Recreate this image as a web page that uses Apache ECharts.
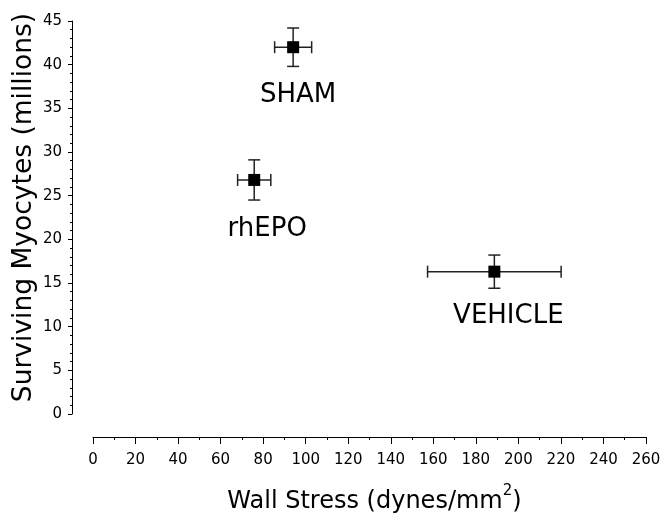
<!DOCTYPE html>
<html>
<head>
<meta charset="utf-8">
<script src="https://cdn.jsdelivr.net/npm/echarts@6/dist/echarts.min.js"></script>
<style>html,body{margin:0;padding:0;background:#fff;}#c{width:663px;height:514px;}</style>
</head>
<body>
<div id="c"></div>
<script>
const groups = ['SHAM', 'rhEPO', 'VEHICLE'];
const wallStress = [94.1, 75.8, 188.7];
const wallStressErr = [8.7, 7.8, 31.4];
const myocytes = [42.0, 26.8, 16.3];
const myocytesErr = [2.2, 2.3, 1.9];
const xTicks = [0, 20, 40, 60, 80, 100, 120, 140, 160, 180, 200, 220, 240, 260];
const yTicks = [0, 5, 10, 15, 20, 25, 30, 35, 40, 45];

const FONT = 'DejaVu Sans';
const labelPos = [[11, 54], [19, 55], [20, 51]];

const chart = echarts.init(document.getElementById('c'), null, {renderer: 'canvas'});
const errData = groups.map((g, i) => [wallStress[i], myocytes[i], wallStressErr[i], myocytesErr[i]]);
const ptData = groups.map((g, i) => ({
  name: g,
  value: [wallStress[i], myocytes[i]],
  label: {position: labelPos[i]}
}));

chart.setOption({
  animation: false,
  backgroundColor: '#fff',
  grid: {left: 93, right: 17, top: 21, bottom: 100, containLabel: false, outerBoundsMode: 'none'},
  xAxis: {
    type: 'value', min: xTicks[0], max: xTicks[xTicks.length - 1], interval: 20,
    offset: 23,
    axisLine: {show: true, onZero: false, lineStyle: {color: '#000', width: 1}},
    axisTick: {show: true, inside: false, length: 7, lineStyle: {color: '#000'}},
    minorTick: {show: true, splitNumber: 2, length: 3, lineStyle: {color: '#000'}},
    splitLine: {show: false},
    axisLabel: {fontFamily: FONT, fontSize: 15, color: '#000', margin: 16},
    name: '{a|Wall Stress (dynes/mm}{s|2}{a|)}',
    nameLocation: 'middle', nameGap: 47,
    nameTextStyle: {
      padding: [0, 0, 0, 10],
      rich: {
        a: {fontFamily: FONT, fontSize: 24, color: '#000', verticalAlign: 'bottom', lineHeight: 30},
        s: {fontFamily: FONT, fontSize: 15, color: '#000', verticalAlign: 'top', lineHeight: 30}
      }
    }
  },
  yAxis: {
    type: 'value', min: yTicks[0], max: yTicks[yTicks.length - 1], interval: 5,
    offset: 21,
    axisLine: {show: true, onZero: false, lineStyle: {color: '#000', width: 1}},
    axisTick: {show: true, inside: false, length: 4, lineStyle: {color: '#000'}},
    minorTick: {show: true, splitNumber: 5, length: 2, lineStyle: {color: '#000'}},
    splitLine: {show: false},
    axisLabel: {fontFamily: FONT, fontSize: 15, color: '#000', margin: 10},
    name: 'Surviving Myocytes (millions)',
    nameLocation: 'middle', nameGap: 48,
    nameMoveOverlap: false,
    nameTextStyle: {fontFamily: FONT, fontSize: 26.5, color: '#000', align: 'center', verticalAlign: 'middle', padding: [0, 0, 0, 20]}
  },
  series: [
    {
      type: 'custom',
      data: errData,
      z: 1,
      renderItem: function (params, api) {
        const x = api.value(0), y = api.value(1), ex = api.value(2), ey = api.value(3);
        const c = api.coord([x, y]);
        const l = api.coord([x - ex, y]), r = api.coord([x + ex, y]);
        const t = api.coord([x, y + ey]), b = api.coord([x, y - ey]);
        const cap = 6;
        const st = {stroke: '#222', lineWidth: 1.5, fill: null};
        return {
          type: 'group',
          children: [
            {type: 'line', shape: {x1: l[0], y1: c[1], x2: r[0], y2: c[1]}, style: st},
            {type: 'line', shape: {x1: l[0], y1: c[1] - cap, x2: l[0], y2: c[1] + cap}, style: st},
            {type: 'line', shape: {x1: r[0], y1: c[1] - cap, x2: r[0], y2: c[1] + cap}, style: st},
            {type: 'line', shape: {x1: c[0], y1: t[1], x2: c[0], y2: b[1]}, style: st},
            {type: 'line', shape: {x1: c[0] - cap, y1: t[1], x2: c[0] + cap, y2: t[1]}, style: st},
            {type: 'line', shape: {x1: c[0] - cap, y1: b[1], x2: c[0] + cap, y2: b[1]}, style: st}
          ]
        };
      }
    },
    {
      type: 'scatter',
      z: 3,
      symbol: 'rect',
      symbolSize: 12,
      itemStyle: {color: '#000', opacity: 1},
      data: ptData,
      label: {
        show: true,
        formatter: '{b}',
        fontFamily: FONT, fontSize: 26, color: '#000',
        align: 'center', verticalAlign: 'middle'
      }
    }
  ]
});
</script>
</body>
</html>
